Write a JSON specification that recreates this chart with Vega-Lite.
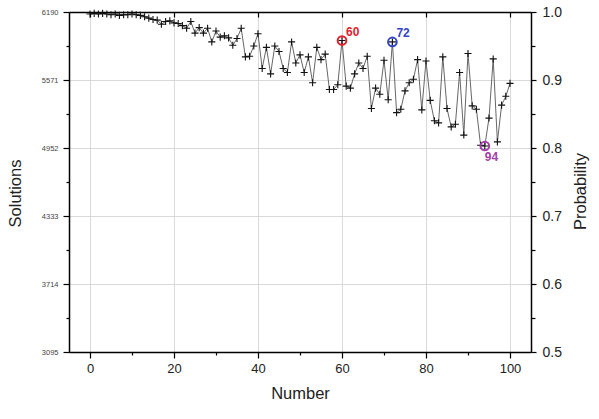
{
  "$schema": "https://vega.github.io/schema/vega-lite/v6.json",
  "width": 462,
  "height": 340,
  "autosize": {"type": "none"},
  "padding": {"left": 69, "top": 12, "right": 68, "bottom": 67},
  "background": "white",
  "datasets": {
    "trials": [
      {"n": 0, "p": 0.997}, {"n": 1, "p": 0.998}, {"n": 2, "p": 0.997}, {"n": 3, "p": 0.998},
      {"n": 4, "p": 0.997}, {"n": 5, "p": 0.996}, {"n": 6, "p": 0.997}, {"n": 7, "p": 0.995},
      {"n": 8, "p": 0.996}, {"n": 9, "p": 0.996}, {"n": 10, "p": 0.997}, {"n": 11, "p": 0.996},
      {"n": 12, "p": 0.995}, {"n": 13, "p": 0.993}, {"n": 14, "p": 0.991}, {"n": 15, "p": 0.989},
      {"n": 16, "p": 0.988}, {"n": 17, "p": 0.982}, {"n": 18, "p": 0.986}, {"n": 19, "p": 0.987},
      {"n": 20, "p": 0.984}, {"n": 21, "p": 0.983}, {"n": 22, "p": 0.98}, {"n": 23, "p": 0.976},
      {"n": 24, "p": 0.986}, {"n": 25, "p": 0.969}, {"n": 26, "p": 0.977}, {"n": 27, "p": 0.969},
      {"n": 28, "p": 0.976}, {"n": 29, "p": 0.956}, {"n": 30, "p": 0.972}, {"n": 31, "p": 0.963},
      {"n": 32, "p": 0.965}, {"n": 33, "p": 0.962}, {"n": 34, "p": 0.951}, {"n": 35, "p": 0.961},
      {"n": 36, "p": 0.976}, {"n": 37, "p": 0.934}, {"n": 38, "p": 0.935}, {"n": 39, "p": 0.95},
      {"n": 40, "p": 0.968}, {"n": 41, "p": 0.917}, {"n": 42, "p": 0.948}, {"n": 43, "p": 0.909},
      {"n": 44, "p": 0.95}, {"n": 45, "p": 0.942}, {"n": 46, "p": 0.917}, {"n": 47, "p": 0.911},
      {"n": 48, "p": 0.956}, {"n": 49, "p": 0.925}, {"n": 50, "p": 0.937}, {"n": 51, "p": 0.911},
      {"n": 52, "p": 0.934}, {"n": 53, "p": 0.896}, {"n": 54, "p": 0.948}, {"n": 55, "p": 0.93},
      {"n": 56, "p": 0.938}, {"n": 57, "p": 0.886}, {"n": 58, "p": 0.886}, {"n": 59, "p": 0.893},
      {"n": 60, "p": 0.958}, {"n": 61, "p": 0.891}, {"n": 62, "p": 0.888}, {"n": 63, "p": 0.909},
      {"n": 64, "p": 0.925}, {"n": 65, "p": 0.917}, {"n": 66, "p": 0.935}, {"n": 67, "p": 0.858},
      {"n": 68, "p": 0.888}, {"n": 69, "p": 0.879}, {"n": 70, "p": 0.929}, {"n": 71, "p": 0.871},
      {"n": 72, "p": 0.956}, {"n": 73, "p": 0.852}, {"n": 74, "p": 0.857}, {"n": 75, "p": 0.884},
      {"n": 76, "p": 0.896}, {"n": 77, "p": 0.901}, {"n": 78, "p": 0.93}, {"n": 79, "p": 0.856},
      {"n": 80, "p": 0.928}, {"n": 81, "p": 0.87}, {"n": 82, "p": 0.84}, {"n": 83, "p": 0.837},
      {"n": 84, "p": 0.934}, {"n": 85, "p": 0.858}, {"n": 86, "p": 0.831}, {"n": 87, "p": 0.835},
      {"n": 88, "p": 0.911}, {"n": 89, "p": 0.819}, {"n": 90, "p": 0.939}, {"n": 91, "p": 0.862},
      {"n": 92, "p": 0.857}, {"n": 93, "p": 0.804}, {"n": 94, "p": 0.803}, {"n": 95, "p": 0.844},
      {"n": 96, "p": 0.931}, {"n": 97, "p": 0.809}, {"n": 98, "p": 0.863}, {"n": 99, "p": 0.876},
      {"n": 100, "p": 0.895}
    ],
    "marked": [
      {"n": 60, "p": 0.958, "label": "60"},
      {"n": 72, "p": 0.956, "label": "72"},
      {"n": 94, "p": 0.803, "label": "94"}
    ]
  },
  "layer": [
    {
      "data": {"name": "trials"},
      "mark": {"type": "line", "color": "#555555", "strokeWidth": 0.9},
      "encoding": {
        "x": {
          "field": "n", "type": "quantitative",
          "scale": {"domain": [-5, 105], "nice": false, "zero": false},
          "axis": {
            "orient": "bottom", "title": "Number",
            "values": [0, 10, 20, 30, 40, 50, 60, 70, 80, 90, 100],
            "labelExpr": "datum.value % 20 == 0 ? datum.label : ''",
            "tickSize": {"condition": {"test": "datum.value % 20 == 0", "value": 6}, "value": 3},
            "gridOpacity": {"condition": {"test": "datum.value % 20 == 0", "value": 1}, "value": 0},
            "grid": true, "gridColor": "#d9d9d9",
            "domainColor": "#000", "domainWidth": 1.5, "tickColor": "#000", "tickWidth": 1.2,
            "labelFont": "Liberation Sans", "labelFontSize": 13, "labelColor": "#222", "labelPadding": 4,
            "titleFont": "Liberation Sans", "titleFontSize": 16.5, "titleFontWeight": "normal",
            "titleColor": "#222", "titlePadding": 10
          }
        },
        "y": {
          "field": "p", "type": "quantitative",
          "scale": {"domain": [0.5, 1.0], "nice": false, "zero": false},
          "axis": {
            "orient": "left", "title": "Solutions",
            "values": [0.5, 0.55, 0.6, 0.65, 0.7, 0.75, 0.8, 0.85, 0.9, 0.95, 1.0],
            "labelExpr": "abs(datum.value * 10 - round(datum.value * 10)) < 0.01 ? format(round(datum.value * 6190), 'd') : ''",
            "tickSize": {"condition": {"test": "abs(datum.value * 10 - round(datum.value * 10)) < 0.01", "value": 6}, "value": 3},
            "gridOpacity": {"condition": {"test": "abs(datum.value * 10 - round(datum.value * 10)) < 0.01", "value": 1}, "value": 0},
            "grid": true, "gridColor": "#d9d9d9",
            "domainColor": "#000", "domainWidth": 1.5, "tickColor": "#000", "tickWidth": 1.2,
            "labelFont": "Liberation Sans", "labelFontSize": 7.5, "labelColor": "#444", "labelPadding": 5,
            "titleFont": "Liberation Sans", "titleFontSize": 16.5, "titleFontWeight": "normal",
            "titleColor": "#222", "titleAngle": -90, "titleBaseline": "bottom",
            "titleX": -46, "titleY": 181
          }
        }
      }
    },
    {
      "data": {"name": "trials"},
      "mark": {"type": "point", "shape": "M-1,0H1M0,-1V1", "filled": false, "stroke": "#111", "strokeWidth": 1.1, "size": 50, "opacity": 1},
      "encoding": {
        "x": {
          "field": "n", "type": "quantitative",
          "axis": {
            "orient": "top", "title": null, "labels": false, "grid": false, "ticks": true,
            "values": [0, 20, 40, 60, 80, 100],
            "tickSize": -5, "domainColor": "#000", "domainWidth": 1.5, "tickColor": "#000", "tickWidth": 1.2
          }
        },
        "y": {
          "field": "p", "type": "quantitative",
          "axis": {
            "orient": "right", "title": "Probability",
            "values": [0.5, 0.55, 0.6, 0.65, 0.7, 0.75, 0.8, 0.85, 0.9, 0.95, 1.0],
            "labelExpr": "abs(datum.value * 10 - round(datum.value * 10)) < 0.01 ? format(datum.value, '.1f') : ''",
            "tickSize": {"condition": {"test": "abs(datum.value * 10 - round(datum.value * 10)) < 0.01", "value": 5}, "value": 4},
            "grid": false,
            "domainColor": "#000", "domainWidth": 1.5, "tickColor": "#000", "tickWidth": 1.2,
            "labelFont": "Liberation Sans", "labelFontSize": 14, "labelColor": "#222", "labelPadding": 6,
            "titleFont": "Liberation Sans", "titleFontSize": 16.5, "titleFontWeight": "normal",
            "titleColor": "#222", "titleAngle": -90, "titleBaseline": "bottom",
            "titleX": 57, "titleY": 179
          }
        }
      }
    },
    {
      "data": {"name": "marked"},
      "mark": {"type": "point", "shape": "circle", "filled": false, "strokeWidth": 2, "size": 75, "opacity": 1},
      "encoding": {
        "x": {"field": "n", "type": "quantitative", "axis": null},
        "y": {"field": "p", "type": "quantitative", "axis": null},
        "color": {
          "field": "label", "type": "nominal", "legend": null,
          "scale": {"domain": ["60", "72", "94"], "range": ["#e0222c", "#3344c4", "#a33fa6"]}
        }
      }
    },
    {
      "data": {"name": "marked"},
      "transform": [{"filter": "datum.label != '94'"}],
      "mark": {"type": "text", "align": "left", "baseline": "middle", "dx": 4, "dy": -9, "font": "Liberation Sans", "fontSize": 12, "fontWeight": "bold"},
      "encoding": {
        "x": {"field": "n", "type": "quantitative", "axis": null},
        "y": {"field": "p", "type": "quantitative", "axis": null},
        "text": {"field": "label"},
        "color": {
          "field": "label", "type": "nominal", "legend": null,
          "scale": {"domain": ["60", "72", "94"], "range": ["#e0222c", "#4a5ccf", "#a84aac"]}
        }
      }
    },
    {
      "data": {"name": "marked"},
      "transform": [{"filter": "datum.label == '94'"}],
      "mark": {"type": "text", "align": "left", "baseline": "middle", "dx": 0, "dy": 11, "font": "Liberation Sans", "fontSize": 12, "fontWeight": "bold"},
      "encoding": {
        "x": {"field": "n", "type": "quantitative", "axis": null},
        "y": {"field": "p", "type": "quantitative", "axis": null},
        "text": {"field": "label"},
        "color": {
          "field": "label", "type": "nominal", "legend": null,
          "scale": {"domain": ["60", "72", "94"], "range": ["#e0222c", "#4a5ccf", "#a84aac"]}
        }
      }
    }
  ],
  "resolve": {"axis": {"x": "independent", "y": "independent"}},
  "config": {"view": {"stroke": null}}
}
